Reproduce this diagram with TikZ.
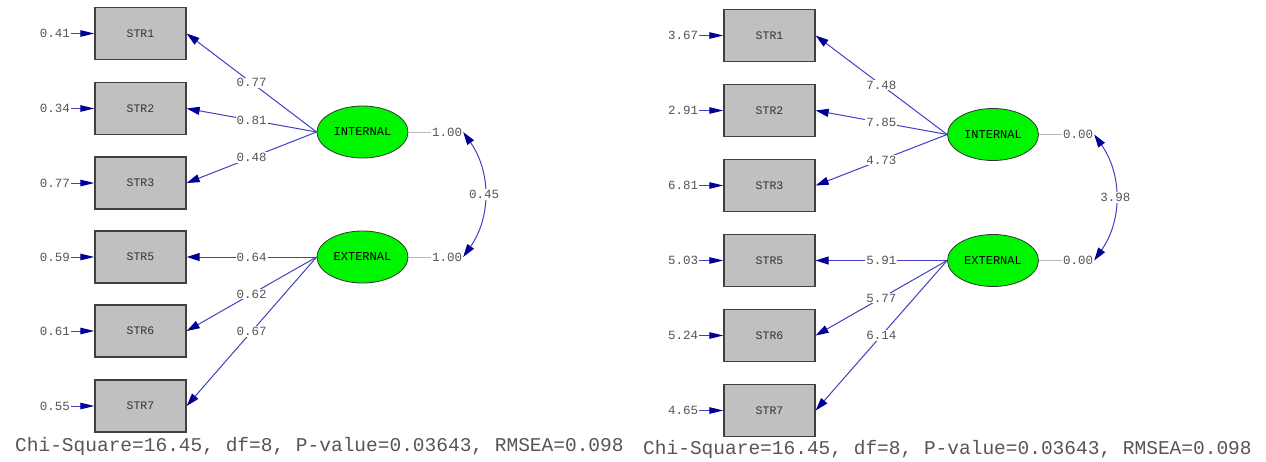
\documentclass[tikz,border=0pt]{standalone}
\usepackage{fontspec}
\setmonofont{Liberation Mono}
\usetikzlibrary{shapes.geometric}
\usetikzlibrary{arrows.meta}

\definecolor{pathblue}{RGB}{64,64,192}
\definecolor{tipblue}{RGB}{0,0,150}
\definecolor{valgray}{RGB}{85,85,85}
\definecolor{boxgray}{RGB}{192,192,192}
\definecolor{boxedge}{RGB}{64,64,64}
\definecolor{latgreen}{RGB}{0,245,0}
\definecolor{vargray}{RGB}{185,185,185}

\begin{document}
\begin{tikzpicture}[x=1pt,y=-1pt,
  box/.style={draw=boxedge,line width=1.3pt,fill=boxgray,minimum width=91pt,minimum height=52pt,font=\ttfamily\fontsize{11.5}{12}\selectfont,text=black!80},
  latent/.style={ellipse,draw=black!80,line width=0.8pt,fill=latgreen,minimum width=91pt,minimum height=52pt,inner sep=0pt,font=\ttfamily\fontsize{12}{12}\selectfont},
  val/.style={fill=white,inner sep=1pt,text=valgray,font=\ttfamily\fontsize{12.5}{13}\selectfont},
  chi/.style={inner sep=0pt,text=valgray,font=\ttfamily\fontsize{19.5}{20}\selectfont},
  load/.style={pathblue,line width=1pt,-{Triangle[length=13pt,width=8pt,color=tipblue]}},
  err/.style={pathblue,line width=1pt,-{Triangle[length=14pt,width=6.5pt,color=tipblue]}},
  varline/.style={vargray,line width=1pt},
  cov/.style={pathblue,line width=1pt,{Triangle[length=13pt,width=8pt,color=tipblue]}-{Triangle[length=13pt,width=8pt,color=tipblue]}}]

\useasboundingbox (0,0) rectangle (1266,461);

% left model: standardized solution
\node[box] (lS1) at (140.5,33.5) {STR1};
\node[box] (lS2) at (140.5,108.5) {STR2};
\node[box] (lS3) at (140.5,183) {STR3};
\node[box] (lS5) at (140.5,257) {STR5};
\node[box] (lS6) at (140.5,331) {STR6};
\node[box] (lS7) at (140.5,406) {STR7};

\node[latent] (lInt) at (362.5,132) {INTERNAL};
\node[latent] (lExt) at (362.5,257) {EXTERNAL};

\node[val] (lE1) at (55,33.5) {0.41};
\node[val] (lE2) at (55,108.5) {0.34};
\node[val] (lE3) at (55,183) {0.77};
\node[val] (lE5) at (55,257) {0.59};
\node[val] (lE6) at (55,331) {0.61};
\node[val] (lE7) at (55,406) {0.55};

\draw[err] (lE1.east) -- (lS1.west);
\draw[err] (lE2.east) -- (lS2.west);
\draw[err] (lE3.east) -- (lS3.west);
\draw[err] (lE5.east) -- (lS5.west);
\draw[err] (lE6.east) -- (lS6.west);
\draw[err] (lE7.east) -- (lS7.west);

\draw[load] (lInt.west) -- node[val] {0.77} (lS1.east);
\draw[load] (lInt.west) -- node[val] {0.81} (lS2.east);
\draw[load] (lInt.west) -- node[val] {0.48} (lS3.east);
\draw[load] (lExt.west) -- node[val] {0.64} (lS5.east);
\draw[load] (lExt.west) -- node[val] {0.62} (lS6.east);
\draw[load] (lExt.west) -- node[val] {0.67} (lS7.east);

\node[val] (lVi) at (447,132) {1.00};
\node[val] (lVe) at (447,257) {1.00};
\draw[varline] (lInt.east) -- (lVi.west);
\draw[varline] (lExt.east) -- (lVe.west);
\draw[cov] (lVi.east) to[bend left=35] node[val] {0.45} (lVe.east);

\node[chi,anchor=base west] (lChi) at (15,451) {Chi-Square=16.45, df=8, P-value=0.03643, RMSEA=0.098};

% right model: t-values
\node[box] (rS1) at (769.5,35.5) {STR1};
\node[box] (rS2) at (769.5,110.5) {STR2};
\node[box] (rS3) at (769.5,185.5) {STR3};
\node[box] (rS5) at (769.5,260.5) {STR5};
\node[box] (rS6) at (769.5,335.5) {STR6};
\node[box] (rS7) at (769.5,410.5) {STR7};

\node[latent] (rInt) at (993,134.5) {INTERNAL};
\node[latent] (rExt) at (993,260.5) {EXTERNAL};

\node[val] (rE1) at (683,35.5) {3.67};
\node[val] (rE2) at (683,110.5) {2.91};
\node[val] (rE3) at (683,185.5) {6.81};
\node[val] (rE5) at (683,260.5) {5.03};
\node[val] (rE6) at (683,335.5) {5.24};
\node[val] (rE7) at (683,410.5) {4.65};

\draw[err] (rE1.east) -- (rS1.west);
\draw[err] (rE2.east) -- (rS2.west);
\draw[err] (rE3.east) -- (rS3.west);
\draw[err] (rE5.east) -- (rS5.west);
\draw[err] (rE6.east) -- (rS6.west);
\draw[err] (rE7.east) -- (rS7.west);

\draw[load] (rInt.west) -- node[val] {7.48} (rS1.east);
\draw[load] (rInt.west) -- node[val] {7.85} (rS2.east);
\draw[load] (rInt.west) -- node[val] {4.73} (rS3.east);
\draw[load] (rExt.west) -- node[val] {5.91} (rS5.east);
\draw[load] (rExt.west) -- node[val] {5.77} (rS6.east);
\draw[load] (rExt.west) -- node[val] {6.14} (rS7.east);

\node[val] (rVi) at (1078,134.5) {0.00};
\node[val] (rVe) at (1078,260.5) {0.00};
\draw[varline] (rInt.east) -- (rVi.west);
\draw[varline] (rExt.east) -- (rVe.west);
\draw[cov] (rVi.east) to[bend left=35] node[val] {3.98} (rVe.east);

\node[chi,anchor=base west] (rChi) at (643,454) {Chi-Square=16.45, df=8, P-value=0.03643, RMSEA=0.098};

\end{tikzpicture}
\end{document}
